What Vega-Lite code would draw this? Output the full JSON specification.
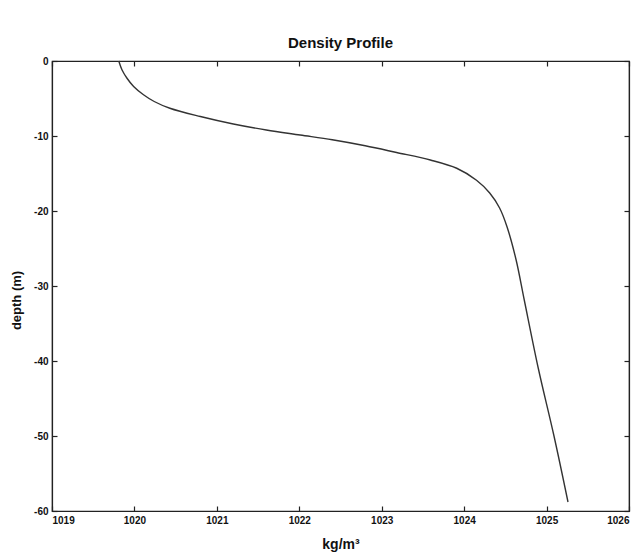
{
  "$schema": "https://vega.github.io/schema/vega-lite/v6.json",
  "width": 577,
  "height": 450,
  "autosize": {"type": "none"},
  "padding": {"left": 52, "top": 61, "right": 11, "bottom": 44},
  "background": "white",
  "title": {"text": "Density Profile", "font": "Liberation Sans", "fontSize": 15, "fontWeight": "bold", "color": "#111", "offset": 5},
  "config": {
    "view": {"stroke": "#222", "strokeWidth": 1.2},
    "axis": {"grid": false, "domainColor": "#222", "domainWidth": 1.2, "tickColor": "#222", "tickWidth": 1.2, "labelFont": "Liberation Sans", "labelFontSize": 10, "labelFontWeight": "bold", "labelColor": "#111", "titleFont": "Liberation Sans", "titleFontWeight": "bold", "titleColor": "#111", "tickSize": -5}
  },
  "data": {"values": [
    {"density": 1019.81, "depth": 0},
    {"density": 1019.85, "depth": -1.2},
    {"density": 1019.91, "depth": -2.3},
    {"density": 1019.99, "depth": -3.4},
    {"density": 1020.11, "depth": -4.5},
    {"density": 1020.24, "depth": -5.4},
    {"density": 1020.43, "depth": -6.3},
    {"density": 1020.80, "depth": -7.4},
    {"density": 1021.20, "depth": -8.4},
    {"density": 1021.60, "depth": -9.2},
    {"density": 1022.01, "depth": -9.87},
    {"density": 1022.40, "depth": -10.5},
    {"density": 1022.80, "depth": -11.3},
    {"density": 1023.18, "depth": -12.2},
    {"density": 1023.59, "depth": -13.2},
    {"density": 1023.91, "depth": -14.3},
    {"density": 1024.15, "depth": -15.9},
    {"density": 1024.31, "depth": -17.6},
    {"density": 1024.43, "depth": -19.6},
    {"density": 1024.52, "depth": -22.1},
    {"density": 1024.63, "depth": -26.5},
    {"density": 1024.73, "depth": -31.9},
    {"density": 1024.90, "depth": -41.0},
    {"density": 1025.09, "depth": -50},
    {"density": 1025.26, "depth": -58.8}
  ]},
  "layer": [
    {
      "mark": {"type": "line", "color": "#333", "strokeWidth": 1.4, "interpolate": "catmull-rom"},
      "encoding": {
        "x": {"field": "density", "type": "quantitative", "scale": {"domain": [1019, 1026], "nice": false, "zero": false},
              "axis": {"orient": "bottom", "values": [1019,1020,1021,1022,1023,1024,1025,1026], "format": "d", "title": "kg/m³", "titleFontSize": 14, "labelPadding": 9, "titlePadding": 12}},
        "y": {"field": "depth", "type": "quantitative", "scale": {"domain": [-60, 0], "nice": false, "zero": false},
              "axis": {"orient": "left", "values": [0,-10,-20,-30,-40,-50,-60], "labelExpr": "'' + datum.value", "title": "depth (m)", "titleFontSize": 13, "labelPadding": 9, "titlePadding": 10, "titleY": 239}},
        "order": {"field": "depth", "sort": "descending"}
      }
    },
    {
      "mark": {"type": "line", "opacity": 0},
      "encoding": {
        "x": {"field": "density", "type": "quantitative", "axis": {"orient": "top", "values": [1019,1020,1021,1022,1023,1024,1025,1026], "labels": false, "title": null}},
        "y": {"field": "depth", "type": "quantitative", "axis": {"orient": "right", "values": [0,-10,-20,-30,-40,-50,-60], "labels": false, "title": null}}
      }
    }
  ],
  "resolve": {"axis": {"x": "independent", "y": "independent"}}
}
